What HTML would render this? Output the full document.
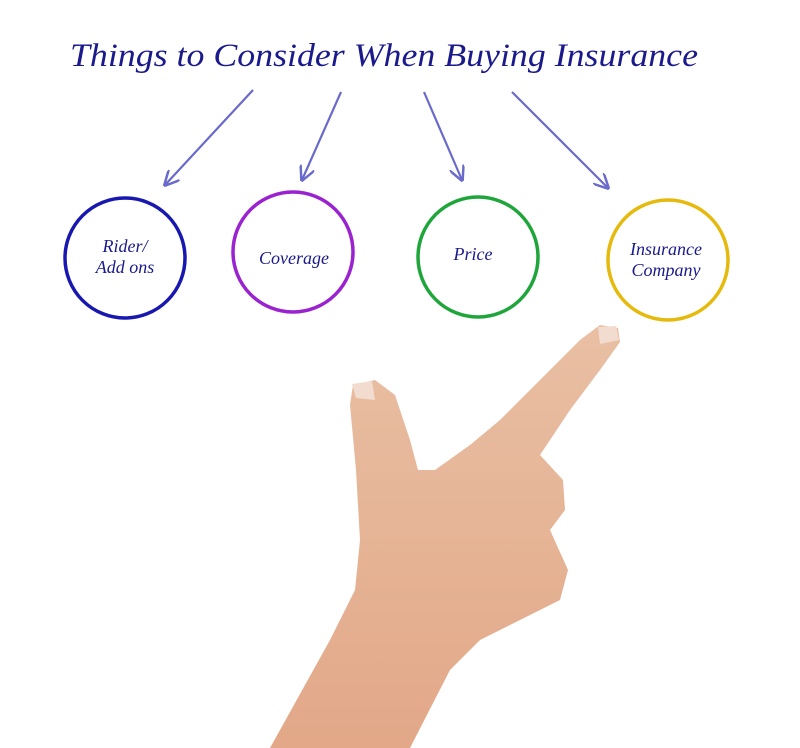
<!DOCTYPE html>
<html><head><meta charset="utf-8"><style>
html,body{margin:0;padding:0;background:#fff;width:800px;height:748px;overflow:hidden}
svg{display:block}
text{font-family:"Liberation Serif",serif;font-style:italic;fill:#1a1a8c}
</style></head><body>
<svg width="800" height="748" viewBox="0 0 800 748" xmlns="http://www.w3.org/2000/svg">
<defs>
<marker id="ah" viewBox="0 0 10 10" refX="9" refY="5" markerWidth="7" markerHeight="7" orient="auto"><path d="M0,0 L10,5 L0,10" fill="none" stroke="#6a6acc" stroke-width="1.6"/></marker>
<linearGradient id="sk" x1="0" y1="0" x2="0" y2="1"><stop offset="0" stop-color="#e9bfa3"/><stop offset="1" stop-color="#e2a888"/></linearGradient>
</defs>
<text x="70" y="66" font-size="33" textLength="628" lengthAdjust="spacingAndGlyphs" fill="#1a1a8c">Things to Consider When Buying Insurance</text>
<g stroke="#6a6acc" stroke-width="2.2" marker-end="url(#ah)">
<line x1="253" y1="90" x2="165" y2="185"/>
<line x1="341" y1="92" x2="302" y2="180"/>
<line x1="424" y1="92" x2="462" y2="180"/>
<line x1="512" y1="92" x2="608" y2="188"/>
</g>
<g fill="none" stroke-width="3.5">
<circle cx="125" cy="258" r="60" stroke="#1818b0"/>
<circle cx="293" cy="252" r="60" stroke="#9a22d0"/>
<circle cx="478" cy="257" r="60" stroke="#1fa63a"/>
<circle cx="668" cy="260" r="60" stroke="#e6b90d"/>
</g>
<g font-size="18" text-anchor="middle">
<text x="125" y="252">Rider/</text><text x="125" y="273">Add ons</text>
<text x="294" y="264">Coverage</text>
<text x="473" y="260">Price</text>
<text x="666" y="255">Insurance</text><text x="666" y="276">Company</text>
</g>
<path fill="url(#sk)" d="M270,748 L330,640 L355,590 L360,540 L356,470 L350,405 L353,385 L375,380 L395,395 L410,440 L418,470 L435,470 L470,445 L500,420 L540,380 L580,340 L600,325 L618,328 L620,342 L600,370 L570,410 L540,455 L563,480 L565,510 L550,530 L568,570 L560,600 L480,640 L450,670 L410,748 Z"/>
<path fill="#f2dccf" d="M598,327 L616,326 L619,340 L600,344 Z"/>
<path fill="#f2dccf" d="M352,384 L372,381 L375,400 L356,398 Z"/>
</svg>
</body></html>
